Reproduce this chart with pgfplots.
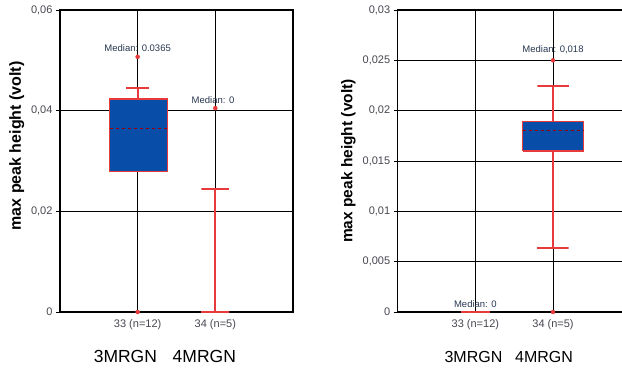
\documentclass[border=0pt]{standalone}
\usepackage{fontspec}
\setmainfont{Liberation Sans}
\usepackage{pgfplots}
\pgfplotsset{compat=1.18}
\definecolor{boxblue}{RGB}{8,78,168}
\definecolor{wred}{RGB}{232,58,58}
\definecolor{ticktext}{RGB}{70,70,80}
\definecolor{medtext}{RGB}{40,55,80}
\tikzset{medlabel/.style={font=\fontsize{9.5}{11}\selectfont, text=medtext, anchor=south, inner sep=1pt}}
\pgfplotsset{
 mystyle/.style={
  scale only axis, width=233pt, height=302pt,
  xmin=0, xmax=3, xtick={1,2}, xticklabels={33 (n=12), 34 (n=5)},
  grid=major, major grid style={black, line width=0.9pt},
  axis line style={line width=1.3pt, black},
  tick align=outside, ytick pos=left, xtick pos=bottom,
  xtick style={draw=none}, ytick style={black, line width=0.8pt}, major tick length=4pt,
  /pgf/number format/assume math mode=true,
  /pgf/number format/use comma, /pgf/number format/fixed, /pgf/number format/precision=3,
  scaled y ticks=false,
  tick label style={font=\fontsize{11}{13}\selectfont, text=ticktext},
  ylabel={max peak height (volt)},
  clip=false,
 },
 wh/.style={draw=wred, line width=2pt, mark=none, line join=miter},
 boxst/.style={draw=wred, fill=boxblue, line width=1.2pt, mark=none},
 medst/.style={draw=red!60!black, dashed, line width=0.8pt, mark=none},
 dots/.style={only marks, mark=*, mark size=2pt, mark options={draw=wred, fill=wred}},
}
\begin{document}
\begin{tikzpicture}
\begin{axis}[mystyle, at={(0,0)}, anchor=south west,
  ymin=0, ymax=0.06, ytick={0,0.02,0.04,0.06},
  ylabel style={at={(ticklabel cs:0.55)}, font=\fontsize{16}{18}\selectfont\bfseries}]
% 33 (n=12)
\addplot[wh] coordinates {(1,0.0423) (1,0.0446) (0.85,0.0446) (1.15,0.0446)};
\addplot[boxst] coordinates {(0.64,0.0279) (1.38,0.0279) (1.38,0.0423) (0.64,0.0423) (0.64,0.0279)};
\addplot[medst] coordinates {(0.64,0.0364) (1.38,0.0364)};
\addplot[dots] coordinates {(1,0.0507) (1,0)};
% 34 (n=5)
\addplot[wh] coordinates {(1.82,0) (2.18,0) (2,0) (2,0.0245) (1.82,0.0245) (2.18,0.0245)};
\addplot[dots] coordinates {(2,0.0405)};
\node[medlabel] at (axis cs:1,0.0514) {Median: 0.0365};
\node[medlabel] at (axis cs:1.97,0.0412) {Median: 0};
\node[anchor=base, font=\fontsize{17.5}{20}\selectfont] at (axis cs:1.35,0) [yshift=-50pt] {3MRGN\hspace{0.9em}4MRGN};
\end{axis}
\begin{axis}[mystyle, at={(337.7pt,0)}, anchor=south west,
  ymin=0, ymax=0.03, ytick={0,0.005,0.01,0.015,0.02,0.025,0.03},
  ylabel style={font=\fontsize{15.5}{18}\selectfont\bfseries}]
% 33: all values 0
\addplot[wh] coordinates {(0.81,0) (1.19,0)};
% 34: whiskers, box, median, points
\addplot[wh] coordinates {(1.8,0.0064) (2.2,0.0064) (2,0.0064) (2,0.0225) (1.8,0.0225) (2.2,0.0225)};
\addplot[boxst] coordinates {(1.61,0.0160) (2.39,0.0160) (2.39,0.0189) (1.61,0.0189) (1.61,0.0160)};
\addplot[medst] coordinates {(1.61,0.0180) (2.39,0.0180)};
\addplot[dots] coordinates {(2,0.025) (2,0)};
\node[medlabel] at (axis cs:1,0.0003) {Median: 0};
\node[medlabel] at (axis cs:2,0.0255) {Median: 0,018};
\node[anchor=base, font=\fontsize{16}{19}\selectfont] at (axis cs:1.43,0) [yshift=-50pt] {3MRGN\hspace{0.8em}4MRGN};
\end{axis}
\pgfresetboundingbox
\path[use as bounding box] (-60pt,-56pt) rectangle (562pt,312pt);
\end{tikzpicture}
\end{document}
